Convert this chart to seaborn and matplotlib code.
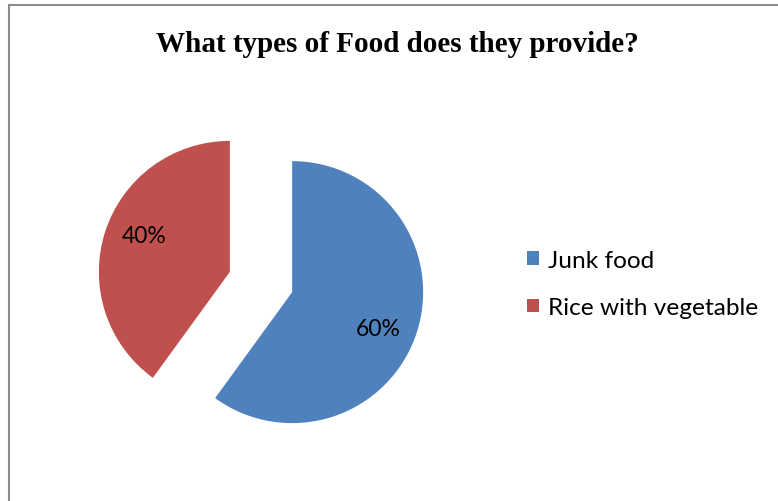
import matplotlib
matplotlib.use("Agg")
import matplotlib.pyplot as plt
from matplotlib.lines import Line2D
from matplotlib.patches import Patch
import numpy as np
import seaborn as sns

# Survey answers
categories = ["Junk food", "Rice with vegetable"]
shares = [60, 40]
title = "What types of Food does they provide?"

sns.set_theme(style="white")
plt.rcParams["font.family"] = ["Lato", "DejaVu Sans"]
plt.rcParams["text.color"] = "black"

colors = ["#4F81BD", "#C0504D"]

W, H, DPI = 778, 502, 100
fig = plt.figure(figsize=(W / DPI, H / DPI), dpi=DPI)
fig.patch.set_facecolor("white")

# Pie axes spans the whole figure; one data unit equals the pie radius in pixels
R = 131.0
cx, cy = 261.0, 283.0
ax = fig.add_axes([0, 0, 1, 1])

wedges, texts, autotexts = ax.pie(
    shares,
    colors=colors,
    startangle=90,
    counterclock=False,
    explode=[0.25, 0.25],
    autopct="%d%%",
    pctdistance=0.71,
    radius=1.0,
    frame=True,
    textprops=dict(fontsize=16.5, color="black"),
    wedgeprops=dict(linewidth=0),
)
ax.set_xlim(-cx / R, (W - cx) / R)
ax.set_ylim(-(H - cy) / R, cy / R)
ax.set_axis_off()

# Nudge percentage labels a few degrees clockwise about each wedge's apex
for w, t in zip(wedges, autotexts):
    px, py = w.center
    x, y = t.get_position()
    a = np.deg2rad(-5)
    dx, dy = x - px, y - py
    t.set_position((px + dx * np.cos(a) - dy * np.sin(a),
                    py + dx * np.sin(a) + dy * np.cos(a)))

fig.text(397 / W, 1 - 45 / H, title, ha="center", va="center", color="black",
         fontsize=21, fontweight="bold", family="Liberation Serif")

handles = [Patch(facecolor=c, edgecolor="none") for c in colors]
fs = 17.6
fig.legend(handles, categories, loc="center left",
           bbox_to_anchor=(527 / W, 1 - 285 / H), frameon=False,
           fontsize=fs, handlelength=0.5, handleheight=0.5,
           handletextpad=0.35, labelspacing=1.08, borderpad=0,
           borderaxespad=0, labelcolor="black")

# Chart border (top and left edges visible)
border = "#8c8c8c"
fig.add_artist(Line2D([9 / W, 9 / W], [1 - 5.5 / H, -0.05], color=border,
                      lw=1.5, transform=fig.transFigure))
fig.add_artist(Line2D([9 / W, 1.05], [1 - 5.5 / H, 1 - 5.5 / H], color=border,
                      lw=1.5, transform=fig.transFigure))

fig.savefig("out.png", dpi=DPI, facecolor="white")
